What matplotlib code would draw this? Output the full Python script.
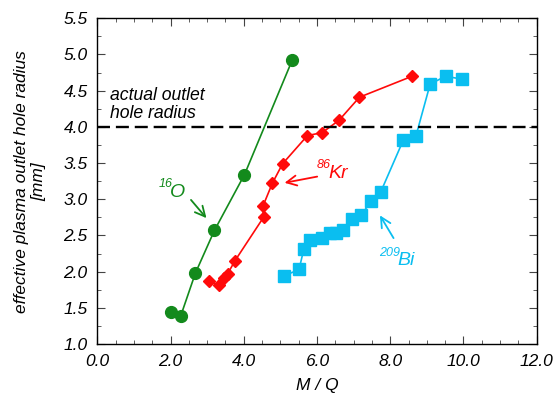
import numpy as np
import matplotlib.pyplot as plt
from matplotlib.ticker import MultipleLocator, FormatStrFormatter

plt.rcParams['font.family'] = ['Liberation Sans', 'DejaVu Sans']
plt.rcParams['font.style'] = 'italic'

# 16O
mq_o = [2.00, 2.28, 2.68, 3.20, 4.02, 5.33]
r_o = [1.44, 1.39, 1.98, 2.57, 3.34, 4.93]

# 86Kr
mq_kr = [3.06, 3.32, 3.45, 3.56, 3.76, 4.54, 4.52, 4.78, 5.06, 5.74, 6.14, 6.60, 7.16, 8.60]
r_kr = [1.87, 1.81, 1.91, 1.97, 2.15, 2.75, 2.90, 3.22, 3.49, 3.88, 3.92, 4.09, 4.41, 4.70]

# 209Bi
mq_bi = [5.10, 5.51, 5.64, 5.81, 6.14, 6.36, 6.52, 6.72, 6.96, 7.21, 7.47, 7.74, 8.36, 8.70, 9.09, 9.51, 9.95]
r_bi = [1.94, 2.03, 2.31, 2.44, 2.47, 2.53, 2.54, 2.57, 2.73, 2.78, 2.97, 3.10, 3.82, 3.87, 4.59, 4.70, 4.66]

green = '#138a1c'
red = '#ff0a0a'
blue = '#0abef0'

fig = plt.figure(figsize=(5.55, 3.98), dpi=100)
ax = fig.add_axes([0.1753, 0.1357, 0.7917, 0.8183])

ax.plot(mq_o, r_o, '-o', color=green, ms=8.5, lw=1.2)
ax.plot(mq_kr, r_kr, '-D', color=red, ms=6.5, lw=1.2)
ax.plot(mq_bi, r_bi, '-s', color=blue, ms=8.5, lw=1.2)

ax.axhline(4.0, color='black', lw=1.7, dashes=(5.5, 2.5))
ax.text(0.36, 4.07, 'actual outlet\nhole radius', fontsize=12.7, ha='left', va='bottom',
        linespacing=1.05)


def isotope(x, y, ysup, mass, sym, col):
    # element symbol with its mass number as a small superscript to the left
    ax.text(x, y, sym, color=col, fontsize=14, ha='left', va='baseline')
    ax.text(x + 0.07, ysup, mass, color=col, fontsize=9, ha='right', va='baseline')


ax.annotate('', xy=(3.03, 2.71), xytext=(2.51, 3.02),
            arrowprops=dict(arrowstyle='->', color=green, lw=1.3, mutation_scale=18))
isotope(1.99, 3.035, 3.17, '16', 'O', green)

ax.annotate('', xy=(5.04, 3.22), xytext=(6.08, 3.32),
            arrowprops=dict(arrowstyle='->', color=red, lw=1.3, mutation_scale=18))
isotope(6.30, 3.29, 3.43, '86', 'Kr', red)

ax.annotate('', xy=(7.68, 2.81), xytext=(8.13, 2.43),
            arrowprops=dict(arrowstyle='->', color=blue, lw=1.3, mutation_scale=18))
isotope(8.20, 2.09, 2.21, '209', 'Bi', blue)

ax.set_xlim(0, 12)
ax.set_ylim(1.0, 5.5)
ax.xaxis.set_major_locator(MultipleLocator(2))
ax.xaxis.set_minor_locator(MultipleLocator(0.5))
ax.yaxis.set_major_locator(MultipleLocator(0.5))
ax.yaxis.set_minor_locator(MultipleLocator(0.25))
ax.xaxis.set_major_formatter(FormatStrFormatter('%.1f'))
ax.yaxis.set_major_formatter(FormatStrFormatter('%.1f'))
ax.tick_params(which='both', direction='in', top=True, right=True, labelsize=12.5, color='#444444')
ax.tick_params(which='major', length=6, pad=7)
ax.tick_params(which='minor', length=3)
for s in ax.spines.values():
    s.set_linewidth(1.0)

ax.set_xlabel('M / Q', fontsize=12.5, labelpad=7)
ax.set_ylabel('effective plasma outlet hole radius\n[mm]', fontsize=12.5, linespacing=1.15)
ax.yaxis.set_label_coords(-0.117, 0.5)

fig.savefig('out.png', dpi=100)
